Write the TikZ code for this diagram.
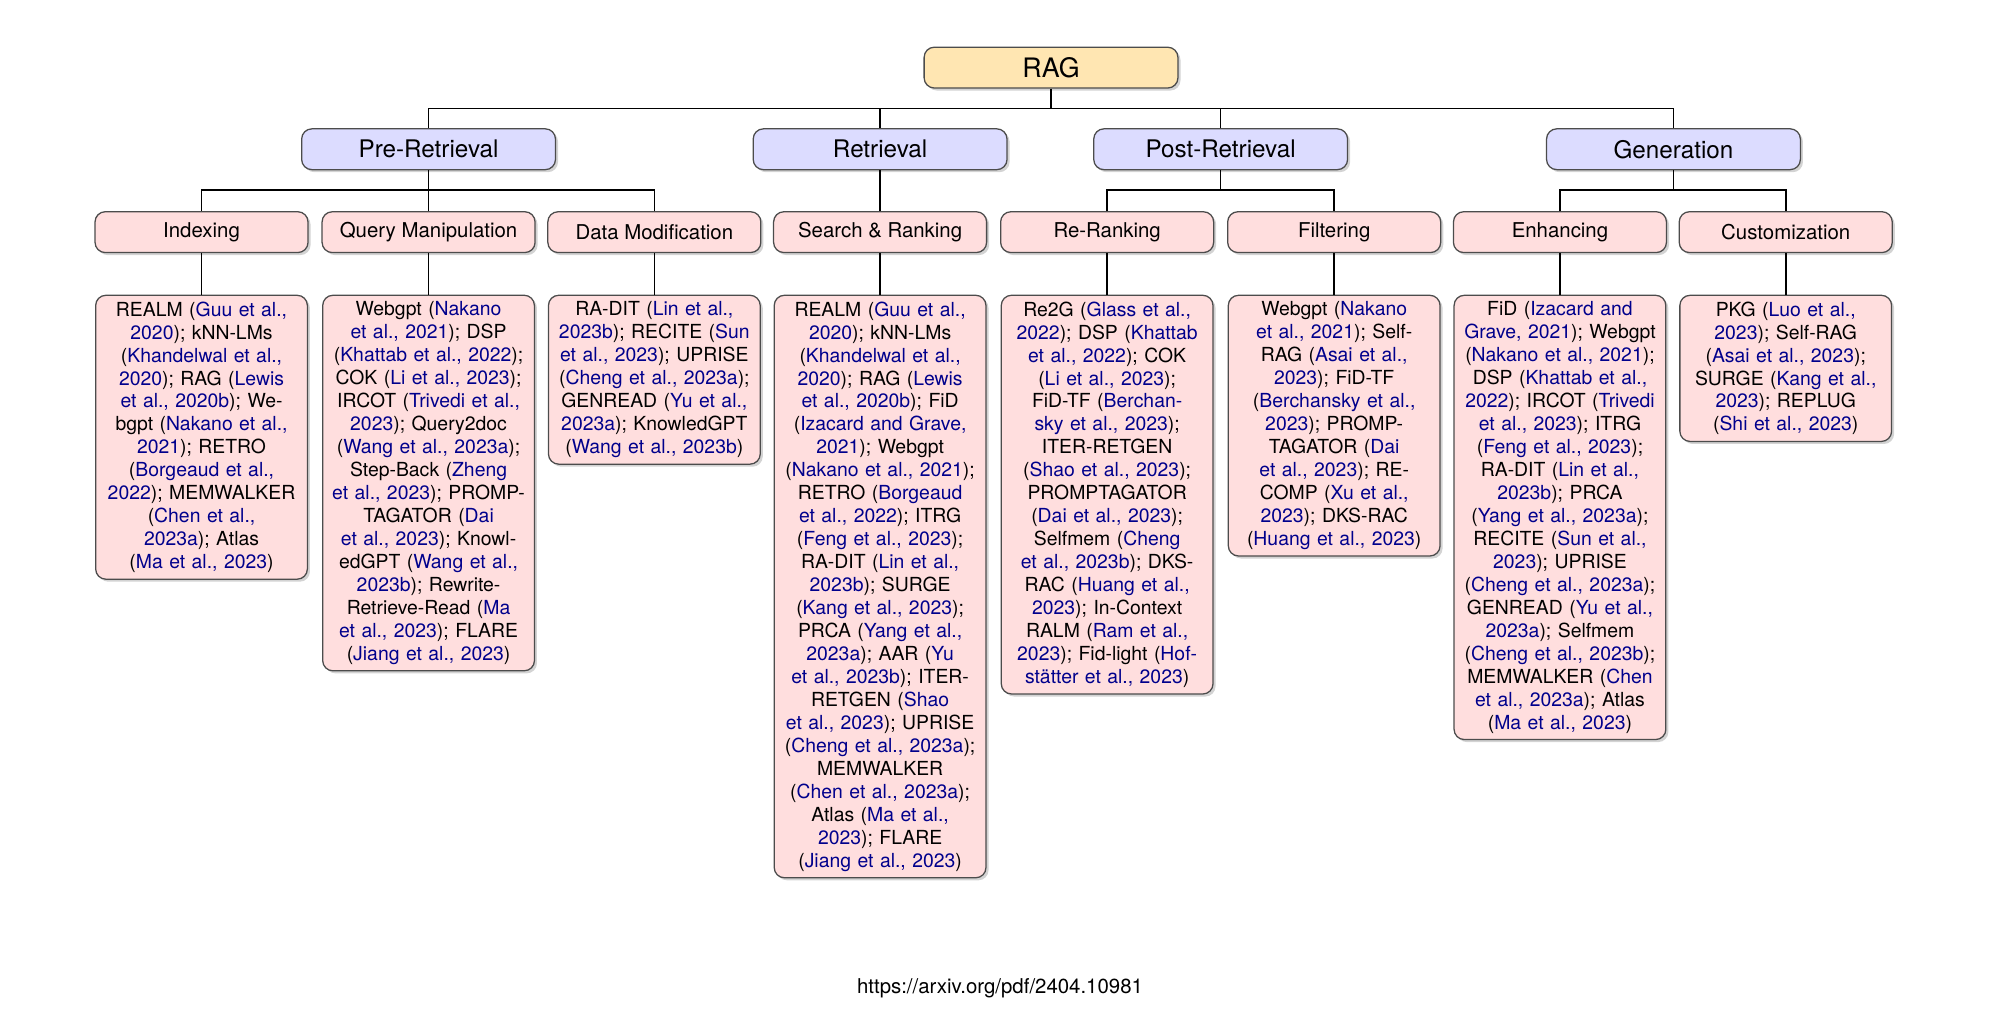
\documentclass[tikz,border=0pt]{standalone}
\usepackage{fontspec}
\setmainfont{TeX Gyre Heros}
\usetikzlibrary{shadows}
\definecolor{cite}{RGB}{0,0,140}
\definecolor{ragfill}{RGB}{255,230,178}
\definecolor{l1fill}{RGB}{220,220,255}
\definecolor{l2fill}{RGB}{255,222,222}
\newcommand{\cb}[1]{\textcolor{cite}{#1}}
\tikzset{
  box/.style={draw=black!70, rounded corners=4pt, line width=0.5pt, align=center,
    drop shadow={opacity=0.35, shadow xshift=1pt, shadow yshift=-1pt}},
  root/.style={box, fill=ragfill, minimum width=99.5pt, minimum height=16pt, font=\fontsize{10.5}{12}\selectfont},
  lone/.style={box, fill=l1fill, minimum width=99.5pt, minimum height=16pt, font=\fontsize{9.5}{11}\selectfont},
  ltwo/.style={box, fill=l2fill, minimum width=83.5pt, minimum height=16pt, font=\fontsize{8}{9}\selectfont},
  leaf/.style={box, fill=l2fill, anchor=north, text width=79pt, inner xsep=2pt, inner ysep=2.5pt, font=\fontsize{7.6}{9}\selectfont},
  conn/.style={draw=black, line width=0.6pt}
}
\begin{document}
\begin{tikzpicture}[x=0.5pt,y=-0.5pt]
\useasboundingbox (0,0) rectangle (1568,799);
\coordinate (rowA) at (0,85);
\coordinate (rowB) at (0,149);
\node[root] (rag) at (824,53) {RAG};
\node[lone] (pre) at (336,117) {Pre-Retrieval};
\node[lone] (ret) at (690,117) {Retrieval};
\node[lone] (post) at (957,117) {Post-Retrieval};
\node[lone] (gen) at (1312,117) {Generation};
\node[ltwo] (idx) at (158,182) {Indexing};
\node[ltwo] (qm) at (336,182) {Query Manipulation};
\node[ltwo] (dm) at (513,182) {Data Modification};
\node[ltwo] (sr) at (690,182) {Search \& Ranking};
\node[ltwo] (rr) at (868,182) {Re-Ranking};
\node[ltwo] (fil) at (1046,182) {Filtering};
\node[ltwo] (enh) at (1223,182) {Enhancing};
\node[ltwo] (cus) at (1400,182) {Customization};

\node[leaf] (idxL) at (158,231) {REALM (\cb{Guu et al.,}\\ \cb{2020}); kNN-LMs\\ (\cb{Khandelwal et al.,}\\ \cb{2020}); RAG (\cb{Lewis}\\ \cb{et al., 2020b}); We-\\ bgpt (\cb{Nakano et al.,}\\ \cb{2021}); RETRO\\ (\cb{Borgeaud et al.,}\\ \cb{2022}); MEMWALKER\\ (\cb{Chen et al.,}\\ \cb{2023a}); Atlas\\ (\cb{Ma et al., 2023})};
\node[leaf] (qmL) at (336,231) {Webgpt (\cb{Nakano}\\ \cb{et al., 2021}); DSP\\ (\cb{Khattab et al., 2022});\\ COK (\cb{Li et al., 2023});\\ IRCOT (\cb{Trivedi et al.,}\\ \cb{2023}); Query2doc\\ (\cb{Wang et al., 2023a});\\ Step-Back (\cb{Zheng}\\ \cb{et al., 2023}); PROMP-\\ TAGATOR (\cb{Dai}\\ \cb{et al., 2023}); Knowl-\\ edGPT (\cb{Wang et al.,}\\ \cb{2023b}); Rewrite-\\ Retrieve-Read (\cb{Ma}\\ \cb{et al., 2023}); FLARE\\ (\cb{Jiang et al., 2023})};
\node[leaf] (dmL) at (513,231) {RA-DIT (\cb{Lin et al.,}\\ \cb{2023b}); RECITE (\cb{Sun}\\ \cb{et al., 2023}); UPRISE\\ (\cb{Cheng et al., 2023a});\\ GENREAD (\cb{Yu et al.,}\\ \cb{2023a}); KnowledGPT\\ (\cb{Wang et al., 2023b})};
\node[leaf] (srL) at (690,231) {REALM (\cb{Guu et al.,}\\ \cb{2020}); kNN-LMs\\ (\cb{Khandelwal et al.,}\\ \cb{2020}); RAG (\cb{Lewis}\\ \cb{et al., 2020b}); FiD\\ (\cb{Izacard and Grave,}\\ \cb{2021}); Webgpt\\ (\cb{Nakano et al., 2021});\\ RETRO (\cb{Borgeaud}\\ \cb{et al., 2022}); ITRG\\ (\cb{Feng et al., 2023});\\ RA-DIT (\cb{Lin et al.,}\\ \cb{2023b}); SURGE\\ (\cb{Kang et al., 2023});\\ PRCA (\cb{Yang et al.,}\\ \cb{2023a}); AAR (\cb{Yu}\\ \cb{et al., 2023b}); ITER-\\ RETGEN (\cb{Shao}\\ \cb{et al., 2023}); UPRISE\\ (\cb{Cheng et al., 2023a});\\ MEMWALKER\\ (\cb{Chen et al., 2023a});\\ Atlas (\cb{Ma et al.,}\\ \cb{2023}); FLARE\\ (\cb{Jiang et al., 2023})};
\node[leaf] (rrL) at (868,231) {Re2G (\cb{Glass et al.,}\\ \cb{2022}); DSP (\cb{Khattab}\\ \cb{et al., 2022}); COK\\ (\cb{Li et al., 2023});\\ FiD-TF (\cb{Berchan-}\\ \cb{sky et al., 2023});\\ ITER-RETGEN\\ (\cb{Shao et al., 2023});\\ PROMPTAGATOR\\ (\cb{Dai et al., 2023});\\ Selfmem (\cb{Cheng}\\ \cb{et al., 2023b}); DKS-\\ RAC (\cb{Huang et al.,}\\ \cb{2023}); In-Context\\ RALM (\cb{Ram et al.,}\\ \cb{2023}); Fid-light (\cb{Hof-}\\ \cb{stätter et al., 2023})};
\node[leaf] (filL) at (1046,231) {Webgpt (\cb{Nakano}\\ \cb{et al., 2021}); Self-\\ RAG (\cb{Asai et al.,}\\ \cb{2023}); FiD-TF\\ (\cb{Berchansky et al.,}\\ \cb{2023}); PROMP-\\ TAGATOR (\cb{Dai}\\ \cb{et al., 2023}); RE-\\ COMP (\cb{Xu et al.,}\\ \cb{2023}); DKS-RAC\\ (\cb{Huang et al., 2023})};
\node[leaf] (enhL) at (1223,231) {FiD (\cb{Izacard and}\\ \cb{Grave, 2021}); Webgpt\\ (\cb{Nakano et al., 2021});\\ DSP (\cb{Khattab et al.,}\\ \cb{2022}); IRCOT (\cb{Trivedi}\\ \cb{et al., 2023}); ITRG\\ (\cb{Feng et al., 2023});\\ RA-DIT (\cb{Lin et al.,}\\ \cb{2023b}); PRCA\\ (\cb{Yang et al., 2023a});\\ RECITE (\cb{Sun et al.,}\\ \cb{2023}); UPRISE\\ (\cb{Cheng et al., 2023a});\\ GENREAD (\cb{Yu et al.,}\\ \cb{2023a}); Selfmem\\ (\cb{Cheng et al., 2023b});\\ MEMWALKER (\cb{Chen}\\ \cb{et al., 2023a}); Atlas\\ (\cb{Ma et al., 2023})};
\node[leaf] (cusL) at (1400,231) {PKG (\cb{Luo et al.,}\\ \cb{2023}); Self-RAG\\ (\cb{Asai et al., 2023});\\ SURGE (\cb{Kang et al.,}\\ \cb{2023}); REPLUG\\ (\cb{Shi et al., 2023})};

\node[font=\fontsize{8}{9}\selectfont] (src) at (784,775) {https://arxiv.org/pdf/2404.10981};

% connectors
\draw[conn] (rag.south) -- (rag.south |- rowA);
\draw[conn] (pre.north) -- (pre.north |- rowA) -- (gen.north |- rowA) -- (gen.north);
\draw[conn] (ret.north) -- (ret.north |- rowA);
\draw[conn] (post.north) -- (post.north |- rowA);
\draw[conn] (pre.south) -- (pre.south |- rowB);
\draw[conn] (idx.north) -- (idx.north |- rowB) -- (dm.north |- rowB) -- (dm.north);
\draw[conn] (qm.north) -- (qm.north |- rowB);
\draw[conn] (ret.south) -- (sr.north);
\draw[conn] (post.south) -- (post.south |- rowB);
\draw[conn] (rr.north) -- (rr.north |- rowB) -- (fil.north |- rowB) -- (fil.north);
\draw[conn] (gen.south) -- (gen.south |- rowB);
\draw[conn] (enh.north) -- (enh.north |- rowB) -- (cus.north |- rowB) -- (cus.north);
\foreach \a in {idx,qm,dm,sr,rr,fil,enh,cus} \draw[conn] (\a.south) -- (\a L.north);
\end{tikzpicture}
\end{document}
